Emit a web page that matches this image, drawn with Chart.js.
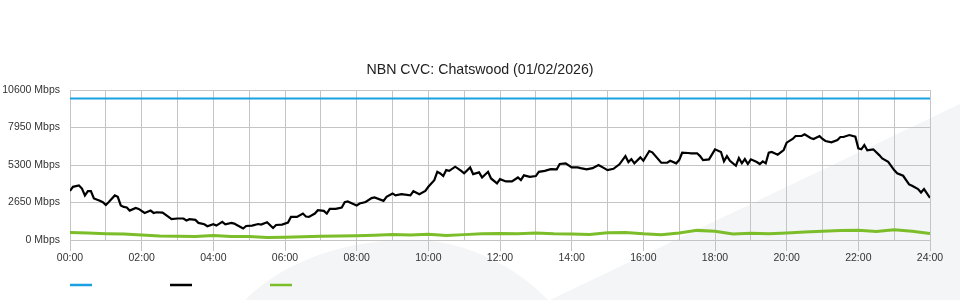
<!DOCTYPE html>
<html>
<head>
<meta charset="utf-8">
<script src="https://cdn.jsdelivr.net/npm/chart.js@4.4.1/dist/chart.umd.min.js"></script>
<style>
  html, body { margin: 0; padding: 0; background: #fff; }
  #wrap { position: relative; width: 960px; height: 300px; }
</style>
</head>
<body>
<div id="wrap"><canvas id="chart"></canvas></div>
<script>
// times in minutes since 00:00
const hourLabels = ['00:00', '02:00', '04:00', '06:00', '08:00', '10:00', '12:00',
    '14:00', '16:00', '18:00', '20:00', '22:00', '24:00'];
const yTicks = [0, 2650, 5300, 7950, 10600];

const capacityTimes = [0, 1440];
const capacityMbps = [10000, 10000];

const trafficTimes = [0, 5, 15, 20, 25, 30, 35, 40, 50, 55, 60, 65, 75, 80, 85, 90, 95, 100,
    110, 115, 125, 135, 140, 145, 155, 165, 170, 180, 190, 195, 200, 210, 215, 225, 230, 240,
    245, 255, 260, 270, 275, 280, 290, 295, 305, 315, 320, 330, 340, 345, 355, 365, 370, 380,
    390, 395, 400, 410, 415, 425, 430, 435, 445, 455, 460, 465, 480, 485, 495, 505, 510, 525,
    530, 540, 545, 555, 570, 575, 585, 595, 600, 610, 615, 620, 625, 630, 635, 645, 655, 660,
    670, 675, 685, 690, 700, 705, 715, 720, 730, 740, 750, 755, 760, 770, 780, 785, 795, 805,
    815, 820, 830, 840, 850, 855, 865, 875, 885, 895, 900, 910, 920, 930, 935, 940, 945, 955,
    960, 970, 975, 990, 1000, 1005, 1015, 1020, 1025, 1035, 1040, 1050, 1055, 1060, 1070,
    1080, 1090, 1095, 1100, 1105, 1115, 1120, 1125, 1130, 1135, 1140, 1150, 1155, 1160, 1165,
    1170, 1175, 1185, 1195, 1200, 1210, 1215, 1225, 1230, 1240, 1245, 1255, 1260, 1265, 1275,
    1285, 1290, 1295, 1305, 1315, 1320, 1325, 1330, 1335, 1345, 1355, 1360, 1370, 1380, 1385,
    1395, 1405, 1410, 1420, 1425, 1430, 1440];
const trafficMbps = [3470, 3760, 3860, 3640, 3150, 3450, 3450, 2940, 2770, 2670, 2480, 2690,
    3150, 3050, 2440, 2340, 2300, 2080, 2270, 2200, 1910, 2080, 1910, 1960, 1940, 1630, 1470,
    1520, 1520, 1380, 1470, 1420, 1210, 1110, 970, 1110, 1020, 1280, 1110, 1210, 1160, 1040,
    810, 990, 1020, 1130, 1090, 1260, 850, 1060, 1090, 1230, 1630, 1630, 1870, 1660, 1630,
    1870, 2110, 2060, 1870, 2200, 2200, 2300, 2670, 2720, 2440, 2580, 2690, 2960, 3010, 2770,
    3050, 3290, 3150, 3240, 3150, 3450, 3240, 3470, 3760, 4230, 4820, 4700, 4520, 4940, 4890,
    5180, 4890, 4710, 5130, 4660, 4780, 4420, 4820, 4350, 4000, 4300, 4140, 4140, 4420, 4230,
    4570, 4470, 4520, 4820, 4890, 5010, 4990, 5370, 5420, 5130, 5130, 5080, 4990, 5080, 5300,
    5060, 4940, 5030, 5350, 5930, 5510, 5720, 5420, 5840, 5600, 6290, 6200, 5460, 5460, 5600,
    5420, 5650, 6170, 6150, 6130, 6130, 5930, 5650, 5700, 6410, 6220, 5560, 5930, 5600, 5250,
    5790, 5420, 5720, 5370, 5700, 5510, 5370, 5560, 5420, 6170, 6220, 6030, 6360, 6880, 7140,
    7350, 7350, 7470, 7210, 7140, 7350, 7140, 7000, 6910, 7070, 7280, 7280, 7420, 7300, 6480,
    6410, 6710, 6340, 6410, 6000, 5770, 5530, 4940, 4710, 4540, 3930, 3830, 3600, 3360, 3600,
    2980];

const lowTimes = [0, 30, 60, 90, 120, 150, 180, 210, 240, 270, 300, 330, 360, 390, 420, 450,
    480, 510, 540, 570, 600, 630, 660, 690, 720, 750, 780, 810, 840, 870, 900, 930, 960, 990,
    1020, 1050, 1080, 1110, 1140, 1170, 1200, 1230, 1260, 1290, 1320, 1350, 1380, 1410, 1440];
const lowMbps = [525, 500, 450, 420, 355, 290, 260, 240, 320, 250, 250, 170, 200, 230, 270,
    290, 300, 330, 380, 350, 400, 320, 380, 440, 460, 450, 500, 440, 430, 390, 520, 530, 440,
    380, 500, 680, 620, 430, 480, 440, 500, 560, 620, 680, 690, 600, 720, 620, 450];

function pts(xs, ys) {
    return xs.map((x, i) => ({ x: x, y: ys[i] }));
}

// light watermark shape behind the chart
const backdrop = {
    id: 'backdrop',
    beforeDraw(chart) {
        const c = chart.ctx;
        c.save();
        c.fillStyle = '#f4f5f7';
        c.beginPath();
        c.moveTo(245, 300);
        c.bezierCurveTo(290, 255, 360, 238, 420, 240);
        c.bezierCurveTo(470, 242, 520, 270, 548, 300);
        c.closePath();
        c.fill();
        c.beginPath();
        c.moveTo(550, 300);
        c.lineTo(960, 104);
        c.lineTo(960, 300);
        c.closePath();
        c.fill();
        c.restore();
    }
};

// legend swatches only, no text
const swatches = {
    id: 'swatches',
    afterDraw(chart) {
        const c = chart.ctx;
        c.save();
        chart.data.datasets.forEach((ds, i) => {
            const x = 70 + i * 100;
            c.strokeStyle = ds.borderColor;
            c.lineWidth = 2.5;
            c.beginPath();
            c.moveTo(x, 285);
            c.lineTo(x + 22, 285);
            c.stroke();
        });
        c.restore();
    }
};

Chart.defaults.font.family = '"Liberation Sans", Arial, sans-serif';
Chart.defaults.font.size = 10.5;
Chart.defaults.color = '#333';

const gridColor = '#c4c4c4';

new Chart(document.getElementById('chart'), {
    type: 'line',
    data: {
        datasets: [
            {
                label: 'Capacity',
                data: pts(capacityTimes, capacityMbps),
                borderColor: '#1ba1e2',
                borderWidth: 2,
                pointRadius: 0
            },
            {
                label: 'Traffic',
                data: pts(trafficTimes, trafficMbps),
                borderColor: '#000000',
                borderWidth: 2.2,
                pointRadius: 0,
                tension: 0
            },
            {
                label: 'Low',
                data: pts(lowTimes, lowMbps),
                borderColor: '#7cbd2a',
                borderWidth: 3,
                pointRadius: 0,
                tension: 0
            }
        ]
    },
    options: {
        responsive: true,
        maintainAspectRatio: false,
        animation: false,
        layout: { padding: { left: 0, right: 0, top: 0, bottom: 34 } },
        plugins: {
            legend: { display: false },
            tooltip: { enabled: false },
            title: {
                display: true,
                text: 'NBN CVC: Chatswood (01/02/2026)',
                color: '#222',
                font: { size: 14.2, weight: 'normal' },
                padding: { top: 62, bottom: 11 }
            }
        },
        scales: {
            x: {
                type: 'linear',
                min: 0,
                max: 1440,
                afterFit: (s) => { s.height = 26; s.paddingRight = 30; },
                border: { color: gridColor },
                grid: {
                    color: gridColor,
                    tickLength: 11,
                    tickColor: (ctx) => (ctx.tick && ctx.tick.value % 120 === 0) ? gridColor : 'rgba(0,0,0,0)'
                },
                ticks: {
                    stepSize: 60,
                    autoSkip: false,
                    maxRotation: 0,
                    padding: 1,
                    callback: (v) => v % 120 === 0 ? hourLabels[v / 120] : ''
                }
            },
            y: {
                min: 0,
                max: 10600,
                afterFit: (s) => { s.width = 70; },
                afterBuildTicks: (s) => { s.ticks = yTicks.map(v => ({ value: v })); },
                border: { color: gridColor },
                grid: { color: gridColor, drawTicks: false },
                ticks: {
                    padding: 10,
                    callback: (v) => v + ' Mbps'
                }
            }
        }
    },
    plugins: [backdrop, swatches]
});
</script>
</body>
</html>
